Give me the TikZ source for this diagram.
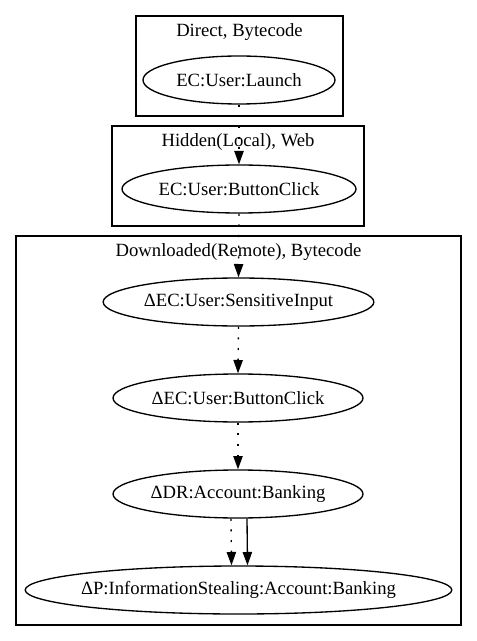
\documentclass[tikz,border=0pt]{standalone}
\usepackage{fontspec}
\setmainfont{Liberation Serif}
\newfontfamily\tms{Liberation Serif}
\usetikzlibrary{arrows.meta,shapes.geometric}
\newcommand\zw[1]{\makebox[0pt]{#1}}
\begin{document}
\begin{tikzpicture}[x=0.75pt,y=-0.75pt,
  font=\tms\fontsize{14}{16}\selectfont,
  ell/.style={draw, ellipse, line width=1pt, inner sep=0pt, minimum height=36pt, minimum width=#1},
  cluster/.style={draw, line width=0.8pt},
  clabel/.style={inner sep=0pt, anchor=center},
  edge/.style={line width=1pt, -{Triangle[length=10pt,width=7pt]}},
  dotedge/.style={edge, dash pattern=on 1.6pt off 6.4pt}]
\useasboundingbox (0,0) rectangle (477,641);
% clusters
\draw[cluster] (136,16) rectangle (343,116);
\node[clabel] (l1) at (239.5,32) {Direct, Bytecode};
\draw[cluster] (112,126) rectangle (364,226);
\node[clabel] (l2) at (238,142) {Hidden(Local), Web};
\draw[cluster] (16,236) rectangle (461,625);
\node[clabel] (l3) at (238.5,252) {Downloaded(Remote), Bytecode};
% nodes
\node[ell=144pt] (launch) at (239,80) {\zw{EC:User:Launch}};
\node[ell=175.5pt] (bc1) at (239,189) {\zw{EC:User:ButtonClick}};
\node[ell=203pt] (si) at (238.5,302) {\zw{ΔEC:User:SensitiveInput}};
\node[ell=187.5pt] (bc2) at (238,398) {\zw{ΔEC:User:ButtonClick}};
\node[ell=187.5pt] (dr) at (238,494) {\zw{ΔDR:Account:Banking}};
\node[ell=320pt] (p) at (238.5,590) {\zw{ΔP:InformationStealing:Account:Banking}};
% edges
\draw[dotedge] (launch.south) -- (bc1.north);
\draw[dotedge] (bc1.south) -- (si.north);
\draw[dotedge] (si.south) -- (bc2.north);
\draw[dotedge] (bc2.south) -- (dr.north);
\draw[dotedge] ([xshift=-5.25pt]dr.south) -- ([xshift=-5.25pt]p.north);
\draw[edge] ([xshift=6.75pt]dr.south) -- ([xshift=6.75pt]p.north);
\end{tikzpicture}
\end{document}
